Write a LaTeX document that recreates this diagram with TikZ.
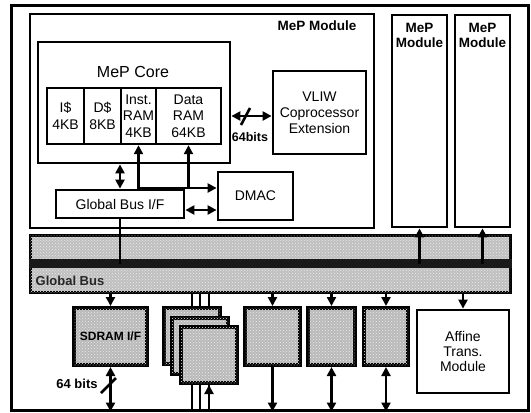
\documentclass[tikz,border=0pt]{standalone}
\usepackage{fontspec}
\setmainfont{Liberation Sans}
\usetikzlibrary{arrows.meta,patterns}
\begin{document}
\begin{tikzpicture}[x=1pt,y=-1pt,
  >={Triangle[length=9pt,width=9pt]},
  box/.style={draw,line width=2.8pt,inner sep=0pt,align=center,fill=white},
  cell/.style={draw,line width=2.4pt,inner sep=0pt,align=center,font=\fontsize{14}{16.5}\selectfont},
  gbox/.style={draw,line width=4pt,inner sep=0pt,align=center,fill=gray!55,
    postaction={pattern=crosshatch dots,pattern color=white!85!gray},
    font=\bfseries\fontsize{12}{13}\selectfont,text=black},
  conn/.style={line width=2.6pt},
  modlabel/.style={font=\bfseries\fontsize{13.5}{15}\selectfont,align=center,inner sep=0pt},
  txt/.style={font=\fontsize{14}{16}\selectfont,align=center,inner sep=0pt}
]
\useasboundingbox (0,0) rectangle (531,413);
% outer frame
\node[box,line width=3pt,minimum width=517pt,minimum height=405pt] (outer) at (269.5,207.5) {};
% modules
\node[box,minimum width=344pt,minimum height=214pt] (mod1) at (202,121) {};
\node[modlabel] (mod1label) at (317,26) {MeP Module};
\node[box,minimum width=55pt,minimum height=212pt] (mod2) at (419.5,121) {};
\node[modlabel] (mod2label) at (419.5,35) {MeP\\Module};
\node[box,minimum width=55pt,minimum height=212pt] (mod3) at (482.5,121) {};
\node[modlabel] (mod3label) at (482.5,35) {MeP\\Module};
% core
\node[box,minimum width=192pt,minimum height=121pt] (core) at (134,102.5) {};
\node[txt,font=\fontsize{16}{18}\selectfont] (corelabel) at (133,72) {MeP Core};
\node[draw,line width=2.4pt,inner sep=0pt,minimum width=174pt,minimum height=56pt] (mem) at (134,116) {};
\node[cell,minimum width=37pt,minimum height=56pt] (icache) at (65.5,116) {I\$\\4KB};
\node[cell,minimum width=37pt,minimum height=56pt] (dcache) at (102.5,116) {D\$\\8KB};
\node[cell,minimum width=35pt,minimum height=56pt] (inst) at (138.5,116) {Inst.\\RAM\\4KB};
\node[cell,minimum width=65pt,minimum height=56pt] (data) at (188.5,116) {Data\\RAM\\64KB};
% VLIW
\node[box,minimum width=93pt,minimum height=83pt,txt] (vliw) at (319.5,112.5) {VLIW\\Coprocessor\\Extension};
% DMAC and Global Bus I/F
\node[box,minimum width=75pt,minimum height=48pt,font=\fontsize{14}{16}\selectfont] (dmac) at (255.5,196) {DMAC};
\node[box,minimum width=128pt,minimum height=28pt,font=\fontsize{14}{16}\selectfont] (gbif) at (120,204) {Global Bus I/F};
% helper coordinates
\coordinate (c188) at (0,188);
\coordinate (c210) at (0,210);
% connectors inside module
\draw[conn,<->] (core.east |- mem) -- (vliw.west |- mem);
\draw[conn] (241,125) -- (250,108);
\node[font=\bfseries\fontsize{12.5}{14}\selectfont,inner sep=0pt] (bits64a) at (250,137) {64bits};
\draw[conn,<->] (gbif.north) -- (gbif.north |- core.south);
\draw[conn,<->] (inst.south) |- (dmac.west |- c188);
\draw[conn,->] (data.south |- c188) -- (data.south);
\draw[conn,<->] (gbif.east |- c210) -- (dmac.west |- c210);
% bus
\node[draw,line width=3pt,inner sep=0pt,fill=gray!50,
  postaction={pattern=crosshatch dots,pattern color=white!85!gray},
  minimum width=480pt,minimum height=57pt] (bus) at (270,263.5) {};
\draw[line width=9pt,black!90] (bus.west) -- (bus.east);
\node[font=\bfseries\fontsize{13}{14}\selectfont,text=black!85,inner sep=0pt] (buslabel) at (70,281) {Global Bus};
% connectors to bus
\draw[conn] (gbif.south) -- (gbif.south |- bus);
\draw[conn,->] (mod2.south |- bus) -- (mod2.south);
\draw[conn,->] (mod3.south |- bus) -- (mod3.south);
% stacked lines (behind boxes)
\coordinate (s1x) at (192,0);
\coordinate (s2x) at (200,0);
\coordinate (s3x) at (209,0);
\draw[conn] (s1x |- bus.south) -- (s1x |- outer.south);
\draw[conn] (s2x |- bus.south) -- (s2x |- outer.south);
\draw[conn] (s3x |- bus.south) -- (s3x |- outer.south);
% peripherals
\node[gbox,minimum width=73pt,minimum height=57pt] (sdram) at (110.5,336.5) {SDRAM I/F};
\node[gbox,minimum width=56pt,minimum height=56pt] (stack1) at (192,336) {};
\node[gbox,minimum width=56pt,minimum height=56pt] (stack2) at (200,345.5) {};
\node[gbox,minimum width=56pt,minimum height=56pt] (stack3) at (209,355) {};
\node[gbox,minimum width=55pt,minimum height=57pt] (pa) at (272.5,336.5) {};
\node[gbox,minimum width=47pt,minimum height=57pt] (pb) at (331.5,336.5) {};
\node[gbox,minimum width=44pt,minimum height=57pt] (pc) at (386,336.5) {};
\node[box,minimum width=92pt,minimum height=83pt,txt,font=\fontsize{14}{15}\selectfont] (affine) at (463,351.5) {Affine\\Trans.\\Module};
% bus to peripherals
\draw[conn,->] (sdram.north |- bus.south) -- (sdram.north);
\draw[conn,->] (pa.north |- bus.south) -- (pa.north);
\draw[conn,->] (pb.north |- bus.south) -- (pb.north);
\draw[conn,->] (pc.north |- bus.south) -- (pc.north);
\draw[conn,->] (affine.north |- bus.south) -- (affine.north);
% peripherals to outside
\draw[conn,<->] (sdram.south) -- (sdram.south |- outer.south);
\draw[conn] (101,393) -- (116,378);
\node[font=\bfseries\fontsize{13}{14}\selectfont,inner sep=0pt] (bits64b) at (77,384) {64 bits};
\draw[conn,->] (stack3.south |- outer.south) -- (stack3.south);
\draw[conn,->] (pa.south) -- (pa.south |- outer.south);
\draw[conn,<->] (pb.south) -- (pb.south |- outer.south);
\draw[conn,<->] (pc.south) -- (pc.south |- outer.south);
\end{tikzpicture}
\end{document}
